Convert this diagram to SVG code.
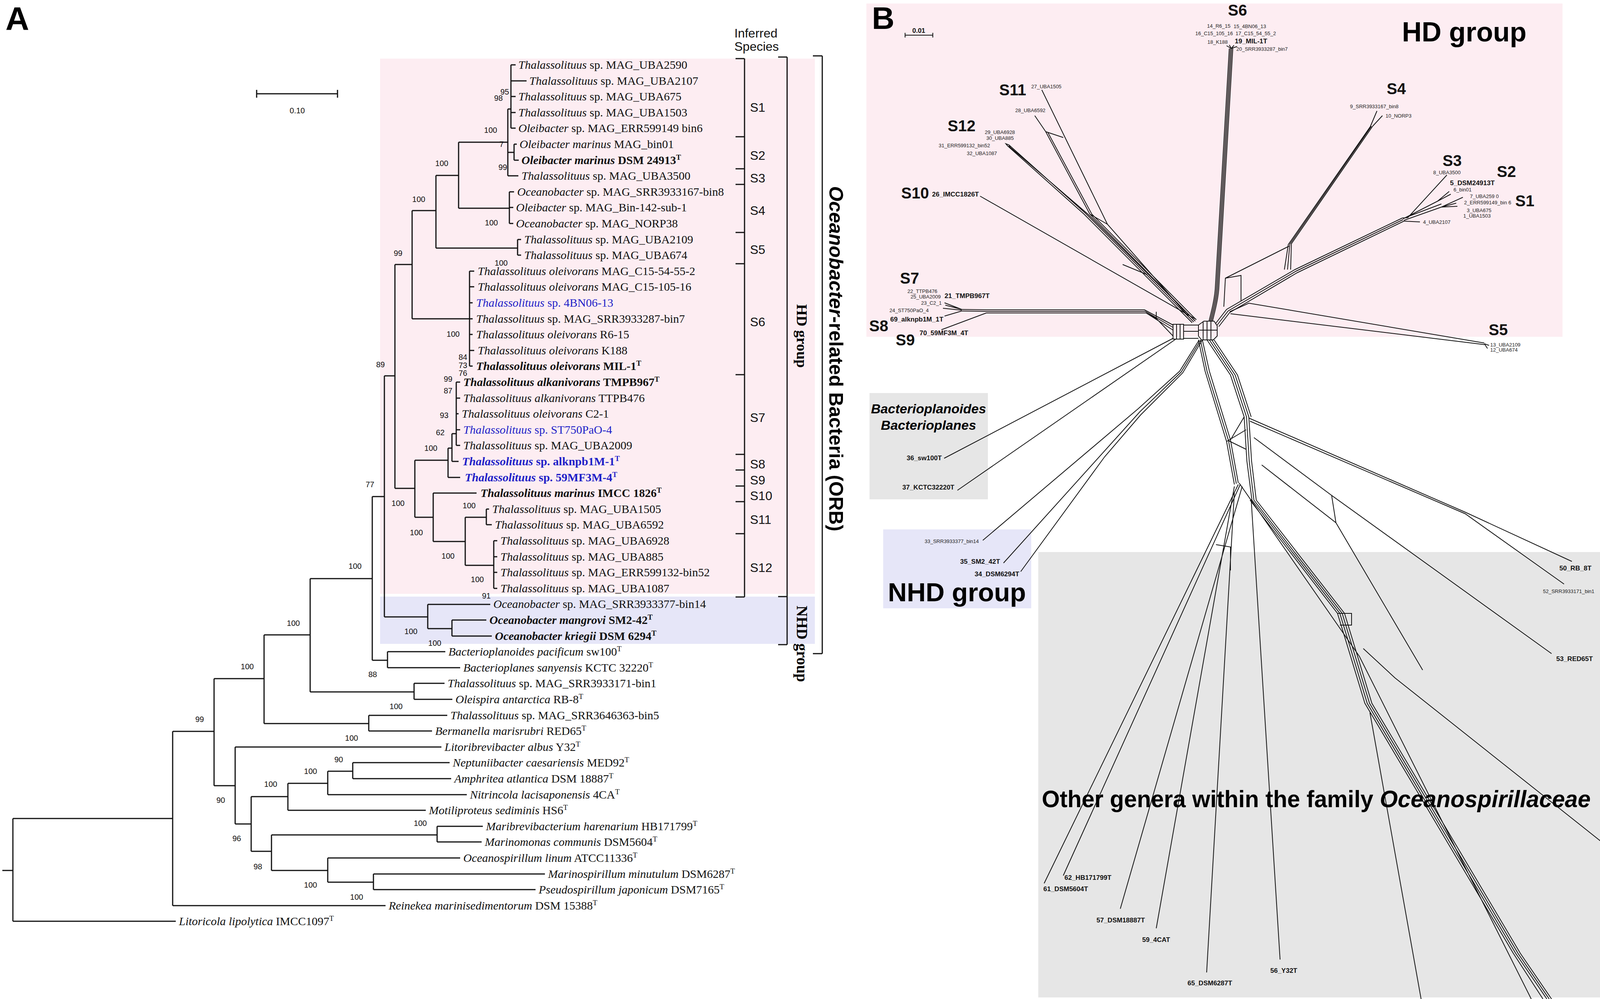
<svg xmlns="http://www.w3.org/2000/svg" width="4328" height="2557" viewBox="0 0 4328 2557">
<style>
.lf{font-family:"Liberation Serif","Times New Roman",serif;font-size:30px;fill:#111}
.i{font-style:italic}
.b{font-weight:bold}
.bl{fill:#1f1fc8}
.bs{font-family:"Liberation Sans",Arial,sans-serif;font-size:20px;fill:#111;text-anchor:middle}
.sl{font-family:"Liberation Sans",Arial,sans-serif;font-size:32px;fill:#111}
.tr{fill:none;stroke:#111;stroke-width:3}
.br{fill:none;stroke:#111;stroke-width:3}
.nw{fill:none;stroke:#111;stroke-width:2}
.sm{font-family:"Liberation Sans",Arial,sans-serif;font-size:13px;fill:#222}
.bd{font-family:"Liberation Sans",Arial,sans-serif;font-size:17px;font-weight:bold;fill:#111}
.big{font-family:"Liberation Sans",Arial,sans-serif;font-size:40px;font-weight:bold;fill:#111}
</style>
<rect width="4328" height="2557" fill="#fff"/>
<!-- Panel A backgrounds -->
<rect x="973" y="150" width="1113" height="1370" fill="#fdedf2"/>
<rect x="973" y="1527" width="1113" height="121" fill="#e6e6f8"/>
<text x="14" y="77" font-family="Liberation Sans,Arial,sans-serif" font-size="84" font-weight="bold">A</text>
<g id="scale-a">
<path class="tr" d="M657 240H864 M657 230V250 M864 230V250"/>
<text x="761" y="290" class="bs" font-size="22">0.10</text>
</g>
<g id="tree-edges">
<path class="tr" d="M6 2228H33 M33 2095V2358 M33 2358H450 M33 2095H442
M442 1872V2318 M442 2318H987 M442 1872H548
M548 1737V2011 M548 1737H676 M548 2011H602
M676 1625V1852 M676 1625H794 M676 1852H944
M794 1481V1771 M794 1481H953 M794 1771H1060
M953 1271V1690 M953 1271H984 M953 1690H992
M984 962V1579 M984 962H1011 M984 1579H1095
M1011 677V1250 M1011 677H1055 M1011 1250H1062
M1055 539V816 M1055 539H1116 M1055 816H1202
M1116 449V635 M1116 449H1174 M1116 635H1325
M1174 364V533 M1174 364H1300 M1174 533H1304
M1300 279V450 M1300 279H1308 M1300 390H1316 M1300 450H1327
M1308 166V328 M1308 166H1320 M1308 207H1348 M1308 247H1320 M1308 288H1320 M1308 328H1320
M1316 369V410 M1316 369H1323 M1316 410H1328
M1304 491V572 M1304 491H1316 M1304 531H1314 M1304 572H1314
M1325 613V653 M1325 613H1334 M1325 653H1334
M1202 694V937 M1202 694H1214 M1202 734H1214 M1202 775H1210 M1202 816H1210 M1202 856H1210 M1202 897H1214 M1202 937H1210
M1062 1178V1324 M1062 1178H1147 M1062 1324H1109
M1147 1147V1222 M1147 1147H1157 M1147 1222H1178
M1157 1110V1181 M1157 1110H1168 M1157 1181H1174
M1168 978V1140 M1168 978H1178 M1168 1019H1178 M1168 1059H1174 M1168 1100H1178 M1168 1140H1178
M1109 1262V1386 M1109 1262H1220 M1109 1386H1191
M1191 1324V1447 M1191 1324H1245 M1191 1447H1264
M1245 1303V1343 M1245 1303H1252 M1245 1343H1259
M1264 1384V1506 M1264 1384H1273 M1264 1425H1273 M1264 1465H1273 M1264 1506H1273
M1095 1547V1609 M1095 1547H1255 M1095 1609H1157
M1157 1587V1628 M1157 1587H1245 M1157 1628H1259
M992 1668V1709 M992 1668H1140 M992 1709H1178
M1060 1749V1790 M1060 1749H1138 M1060 1790H1158
M944 1831V1871 M944 1831H1145 M944 1871H1106
M602 1912V2109 M602 1912H1130 M602 2109H643
M643 2039V2179 M643 2039H737 M643 2179H695
M737 2005V2074 M737 2005H839 M737 2074H1090
M839 1974V2034 M839 1974H903 M839 2034H1195
M903 1952V1993 M903 1952H1151 M903 1993H1155
M695 2137V2228 M695 2137H1119 M695 2228H839
M1119 2115V2155 M1119 2115H1236 M1119 2155H1233
M839 2196V2258 M839 2196H1178 M839 2258H956
M956 2237V2277 M956 2237H1395 M956 2277H1371"/>
</g>
<g id="bootstrap">
<text class="bs" x="1292" y="242">95</text><text class="bs" x="1276" y="258">98</text>
<text class="bs" x="1256" y="340">100</text><text class="bs" x="1284" y="376">7</text>
<text class="bs" x="1287" y="435">99</text><text class="bs" x="1131" y="425">100</text>
<text class="bs" x="1258" y="577">100</text><text class="bs" x="1072" y="517">100</text>
<text class="bs" x="1019" y="655">99</text><text class="bs" x="1283" y="680">100</text>
<text class="bs" x="974" y="940">89</text><text class="bs" x="1160" y="862">100</text>
<text class="bs" x="1185" y="921">84</text><text class="bs" x="1185" y="942">73</text><text class="bs" x="1185" y="962">76</text>
<text class="bs" x="1147" y="977">99</text><text class="bs" x="1147" y="1007">87</text><text class="bs" x="1137" y="1070">93</text>
<text class="bs" x="1127" y="1114">62</text><text class="bs" x="1103" y="1154">100</text>
<text class="bs" x="947" y="1247">77</text><text class="bs" x="1019" y="1295">100</text><text class="bs" x="1201" y="1301">100</text>
<text class="bs" x="1066" y="1370">100</text><text class="bs" x="1147" y="1430">100</text><text class="bs" x="909" y="1456">100</text>
<text class="bs" x="1222" y="1490">100</text><text class="bs" x="1245" y="1532">91</text>
<text class="bs" x="751" y="1602">100</text><text class="bs" x="1052" y="1623">100</text><text class="bs" x="1113" y="1653">100</text>
<text class="bs" x="633" y="1713">100</text><text class="bs" x="954" y="1733">88</text><text class="bs" x="1014" y="1815">100</text>
<text class="bs" x="511" y="1848">99</text><text class="bs" x="900" y="1896">100</text><text class="bs" x="867" y="1951">90</text>
<text class="bs" x="795" y="1981">100</text><text class="bs" x="693" y="2014">100</text><text class="bs" x="565" y="2055">90</text>
<text class="bs" x="1076" y="2114">100</text><text class="bs" x="606" y="2153">96</text><text class="bs" x="660" y="2225">98</text>
<text class="bs" x="795" y="2272">100</text><text class="bs" x="913" y="2303">100</text>
</g>
<g id="leaves">
<g id="leaf-1"><text class="lf" x="1327" y="176"><tspan class="i">Thalassolituus</tspan> sp. MAG_UBA2590</text></g>
<g id="leaf-2"><text class="lf" x="1355" y="217"><tspan class="i">Thalassolituus</tspan> sp. MAG_UBA2107</text></g>
<g id="leaf-3"><text class="lf" x="1327" y="257"><tspan class="i">Thalassolituus</tspan> sp. MAG_UBA675</text></g>
<g id="leaf-4"><text class="lf" x="1327" y="298"><tspan class="i">Thalassolituus</tspan> sp. MAG_UBA1503</text></g>
<g id="leaf-5"><text class="lf" x="1327" y="338"><tspan class="i">Oleibacter</tspan> sp. MAG_ERR599149 bin6</text></g>
<g id="leaf-6"><text class="lf" x="1330" y="379"><tspan class="i">Oleibacter marinus</tspan> MAG_bin01</text></g>
<g id="leaf-7"><text class="lf b" x="1335" y="420"><tspan class="i">Oleibacter marinus</tspan> DSM 24913<tspan dy="-11" font-size="19">T</tspan></text></g>
<g id="leaf-8"><text class="lf" x="1335" y="460"><tspan class="i">Thalassolituus</tspan> sp. MAG_UBA3500</text></g>
<g id="leaf-9"><text class="lf" x="1324" y="501"><tspan class="i">Oceanobacter</tspan> sp. MAG_SRR3933167-bin8</text></g>
<g id="leaf-10"><text class="lf" x="1321" y="541"><tspan class="i">Oleibacter</tspan> sp. MAG_Bin-142-sub-1</text></g>
<g id="leaf-11"><text class="lf" x="1321" y="582"><tspan class="i">Oceanobacter</tspan> sp. MAG_NORP38</text></g>
<g id="leaf-12"><text class="lf" x="1342" y="623"><tspan class="i">Thalassolituus</tspan> sp. MAG_UBA2109</text></g>
<g id="leaf-13"><text class="lf" x="1342" y="663"><tspan class="i">Thalassolituus</tspan> sp. MAG_UBA674</text></g>
<g id="leaf-14"><text class="lf" x="1223" y="704"><tspan class="i">Thalassolituus oleivorans</tspan> MAG_C15-54-55-2</text></g>
<g id="leaf-15"><text class="lf" x="1223" y="744"><tspan class="i">Thalassolituus oleivorans</tspan> MAG_C15-105-16</text></g>
<g id="leaf-16"><text class="lf bl" x="1219" y="785"><tspan class="i">Thalassolituus</tspan> sp. 4BN06-13</text></g>
<g id="leaf-17"><text class="lf" x="1219" y="826"><tspan class="i">Thalassolituus</tspan> sp. MAG_SRR3933287-bin7</text></g>
<g id="leaf-18"><text class="lf" x="1219" y="866"><tspan class="i">Thalassolituus oleivorans</tspan> R6-15</text></g>
<g id="leaf-19"><text class="lf" x="1223" y="907"><tspan class="i">Thalassolituus oleivorans</tspan> K188</text></g>
<g id="leaf-20"><text class="lf b" x="1219" y="947"><tspan class="i">Thalassolituus oleivorans</tspan> MIL-1<tspan dy="-11" font-size="19">T</tspan></text></g>
<g id="leaf-21"><text class="lf b" x="1186" y="988"><tspan class="i">Thalassolituus alkanivorans</tspan> TMPB967<tspan dy="-11" font-size="19">T</tspan></text></g>
<g id="leaf-22"><text class="lf" x="1186" y="1029"><tspan class="i">Thalassolituus alkanivorans</tspan> TTPB476</text></g>
<g id="leaf-23"><text class="lf" x="1182" y="1069"><tspan class="i">Thalassolituus oleivorans</tspan> C2-1</text></g>
<g id="leaf-24"><text class="lf bl" x="1186" y="1110"><tspan class="i">Thalassolituus</tspan> sp. ST750PaO-4</text></g>
<g id="leaf-25"><text class="lf" x="1186" y="1150"><tspan class="i">Thalassolituus</tspan> sp. MAG_UBA2009</text></g>
<g id="leaf-26"><text class="lf b bl" x="1183" y="1191"><tspan class="i">Thalassolituus</tspan> sp. alknpb1M-1<tspan dy="-11" font-size="19">T</tspan></text></g>
<g id="leaf-27"><text class="lf b bl" x="1190" y="1232"><tspan class="i">Thalassolituus</tspan> sp. 59MF3M-4<tspan dy="-11" font-size="19">T</tspan></text></g>
<g id="leaf-28"><text class="lf b" x="1230" y="1272"><tspan class="i">Thalassolituus marinus</tspan> IMCC 1826<tspan dy="-11" font-size="19">T</tspan></text></g>
<g id="leaf-29"><text class="lf" x="1260" y="1313"><tspan class="i">Thalassolituus</tspan> sp. MAG_UBA1505</text></g>
<g id="leaf-30"><text class="lf" x="1267" y="1353"><tspan class="i">Thalassolituus</tspan> sp. MAG_UBA6592</text></g>
<g id="leaf-31"><text class="lf" x="1281" y="1394"><tspan class="i">Thalassolituus</tspan> sp. MAG_UBA6928</text></g>
<g id="leaf-32"><text class="lf" x="1281" y="1435"><tspan class="i">Thalassolituus</tspan> sp. MAG_UBA885</text></g>
<g id="leaf-33"><text class="lf" x="1281" y="1475"><tspan class="i">Thalassolituus</tspan> sp. MAG_ERR599132-bin52</text></g>
<g id="leaf-34"><text class="lf" x="1281" y="1516"><tspan class="i">Thalassolituus</tspan> sp. MAG_UBA1087</text></g>
<g id="leaf-35"><text class="lf" x="1263" y="1556"><tspan class="i">Oceanobacter</tspan> sp. MAG_SRR3933377-bin14</text></g>
<g id="leaf-36"><text class="lf b" x="1253" y="1597"><tspan class="i">Oceanobacter mangrovi</tspan> SM2-42<tspan dy="-11" font-size="19">T</tspan></text></g>
<g id="leaf-37"><text class="lf b" x="1267" y="1638"><tspan class="i">Oceanobacter kriegii</tspan> DSM 6294<tspan dy="-11" font-size="19">T</tspan></text></g>
<g id="leaf-38"><text class="lf" x="1148" y="1678"><tspan class="i">Bacterioplanoides pacificum</tspan> sw100<tspan dy="-11" font-size="19">T</tspan></text></g>
<g id="leaf-39"><text class="lf" x="1186" y="1719"><tspan class="i">Bacterioplanes sanyensis</tspan> KCTC 32220<tspan dy="-11" font-size="19">T</tspan></text></g>
<g id="leaf-40"><text class="lf" x="1146" y="1759"><tspan class="i">Thalassolituus</tspan> sp. MAG_SRR3933171-bin1</text></g>
<g id="leaf-41"><text class="lf" x="1166" y="1800"><tspan class="i">Oleispira antarctica</tspan> RB-8<tspan dy="-11" font-size="19">T</tspan></text></g>
<g id="leaf-42"><text class="lf" x="1153" y="1841"><tspan class="i">Thalassolituus</tspan> sp. MAG_SRR3646363-bin5</text></g>
<g id="leaf-43"><text class="lf" x="1114" y="1881"><tspan class="i">Bermanella marisrubri</tspan> RED65<tspan dy="-11" font-size="19">T</tspan></text></g>
<g id="leaf-44"><text class="lf" x="1138" y="1922"><tspan class="i">Litoribrevibacter albus</tspan> Y32<tspan dy="-11" font-size="19">T</tspan></text></g>
<g id="leaf-45"><text class="lf" x="1159" y="1962"><tspan class="i">Neptuniibacter caesariensis</tspan> MED92<tspan dy="-11" font-size="19">T</tspan></text></g>
<g id="leaf-46"><text class="lf" x="1163" y="2003"><tspan class="i">Amphritea atlantica</tspan> DSM 18887<tspan dy="-11" font-size="19">T</tspan></text></g>
<g id="leaf-47"><text class="lf" x="1203" y="2044"><tspan class="i">Nitrincola lacisaponensis</tspan> 4CA<tspan dy="-11" font-size="19">T</tspan></text></g>
<g id="leaf-48"><text class="lf" x="1098" y="2084"><tspan class="i">Motiliproteus sediminis</tspan> HS6<tspan dy="-11" font-size="19">T</tspan></text></g>
<g id="leaf-49"><text class="lf" x="1244" y="2125"><tspan class="i">Maribrevibacterium harenarium</tspan> HB171799<tspan dy="-11" font-size="19">T</tspan></text></g>
<g id="leaf-50"><text class="lf" x="1241" y="2165"><tspan class="i">Marinomonas communis</tspan> DSM5604<tspan dy="-11" font-size="19">T</tspan></text></g>
<g id="leaf-51"><text class="lf" x="1186" y="2206"><tspan class="i">Oceanospirillum linum</tspan> ATCC11336<tspan dy="-11" font-size="19">T</tspan></text></g>
<g id="leaf-52"><text class="lf" x="1403" y="2247"><tspan class="i">Marinospirillum minutulum</tspan> DSM6287<tspan dy="-11" font-size="19">T</tspan></text></g>
<g id="leaf-53"><text class="lf" x="1379" y="2287"><tspan class="i">Pseudospirillum japonicum</tspan> DSM7165<tspan dy="-11" font-size="19">T</tspan></text></g>
<g id="leaf-54"><text class="lf" x="995" y="2328"><tspan class="i">Reinekea marinisedimentorum</tspan> DSM 15388<tspan dy="-11" font-size="19">T</tspan></text></g>
<g id="leaf-55"><text class="lf" x="458" y="2368"><tspan class="i">Litoricola lipolytica</tspan> IMCC1097<tspan dy="-11" font-size="19">T</tspan></text></g>
</g>
<g id="species-brackets">
<text class="sl" x="1880" y="96" font-size="27">Inferred</text>
<text class="sl" x="1880" y="130" font-size="27">Species</text>
<path class="br" d="M1906 150V1528 M1883 150H1906 M1883 350H1906 M1883 432H1906 M1883 472H1906 M1883 595H1906 M1883 675H1906 M1883 959H1906 M1883 1163H1906 M1883 1203H1906 M1883 1244H1906 M1883 1284H1906 M1883 1366H1906 M1883 1528H1906"/>
<text class="sl" x="1920" y="286">S1</text>
<text class="sl" x="1920" y="409">S2</text>
<text class="sl" x="1920" y="467">S3</text>
<text class="sl" x="1920" y="550">S4</text>
<text class="sl" x="1920" y="650">S5</text>
<text class="sl" x="1920" y="835">S6</text>
<text class="sl" x="1920" y="1080">S7</text>
<text class="sl" x="1920" y="1199">S8</text>
<text class="sl" x="1920" y="1240">S9</text>
<text class="sl" x="1920" y="1280">S10</text>
<text class="sl" x="1920" y="1341">S11</text>
<text class="sl" x="1920" y="1464">S12</text>
</g>
<g id="group-brackets">
<path class="br" d="M2015 146V1650 M1992 146H2015 M1992 1527H2015 M1992 1650H2015"/>
<path class="br" d="M2105 143V1673 M2081 143H2105 M2081 1673H2105"/>
<text transform="translate(2040,860) rotate(90)" font-family="Liberation Serif,Times New Roman,serif" font-size="38" font-weight="bold" text-anchor="middle">HD group</text>
<text transform="translate(2040,1648) rotate(90)" font-family="Liberation Serif,Times New Roman,serif" font-size="39" font-weight="bold" text-anchor="middle">NHD group</text>
<text transform="translate(2123,918) rotate(90)" font-family="Liberation Sans,Arial,sans-serif" font-size="50" font-weight="bold" text-anchor="middle"><tspan font-style="italic">Oceanobacter</tspan>-related Bacteria (ORB)</text>
</g>

<!-- Panel B -->
<rect x="2218" y="9" width="1782" height="853" fill="#fdedf2"/>
<rect x="2226" y="1006" width="303" height="272" fill="#e6e6e6"/>
<rect x="2261" y="1355" width="379" height="202" fill="#e6e6f8"/>
<rect x="2658" y="1413" width="1663" height="1140" fill="#e6e6e6"/>
<text x="2232" y="74" font-family="Liberation Sans,Arial,sans-serif" font-size="80" font-weight="bold">B</text>
<g id="scale-b">
<path class="nw" d="M2317 90H2388 M2317 84V96 M2388 84V96"/>
<text x="2352" y="84" class="bd" text-anchor="middle" font-size="16">0.01</text>
</g>
<g id="network">
<!-- hub -->
<path class="nw" d="M3068 832L3082 822H3108L3116 834V860L3106 870H3076L3068 860Z M3080 823V869 M3090 822V870 M3100 822V870 M3068 845H3116"/>
<path class="nw" d="M3003 830H3030V868H3003Z M3012 830V868 M3021 830V868 M3030 832H3068 M3030 848H3068 M3030 866H3068"/>
<!-- S6 -->
<path class="nw" d="M3095 822C3103 790 3109 765 3111 740L3147 124 M3098 822C3106 790 3112 765 3114 740L3150 124 M3101 822C3109 790 3115 765 3117 740L3153 124 M3104 822C3112 790 3118 765 3120 740L3156 124 M3152 124L3140 117 M3152 124L3147 115 M3152 124L3159 116 M3152 124L3167 119"/>
<!-- S1-S3 and S4 -->
<path class="nw" d="M3112 828L3140 792L3315 690L3590 558 M3116 832L3144 796L3318 694L3592 562 M3120 836L3148 800L3321 698L3594 566 M3133 785L3137 712L3300 630 M3137 712L3177 705L3177 770"/>
<path class="nw" d="M3288 690L3298 626L3508 324 M3304 690L3306 624L3514 323 M3296 690L3302 625L3511 323 M3508 324L3525 284 M3514 323L3539 296"/>
<path class="nw" d="M3590 558L3604 557L3704 448 M3592 560L3680 515L3714 497 M3680 515L3710 490 M3594 564L3690 530L3745 505 M3690 530L3731 528 M3690 530L3728 520 M3594 566L3635 568 M3600 556L3690 522"/>
<!-- S5 -->
<path class="nw" d="M3148 798L3197 776L3800 878 M3150 803L3800 882 M3800 880L3812 884 M3800 880L3808 892"/>
<!-- S7-S9 -->
<path class="nw" d="M3003 832L2930 793H2525L2462 792 M3003 838L2932 797H2525L2462 796 M3003 845L2934 801H2525 M3003 860L2960 815L2934 801 M2960 815V798"/>
<path class="nw" d="M2462 792L2418 775 M2462 792L2420 781 M2462 794L2414 789 M2462 796L2418 809 M2525 801L2410 844"/>
<!-- S10, S11, S12 -->
<path class="nw" d="M3063 818L2509 502 M2874 677L2937 703"/>
<path class="nw" d="M3052 826L2775 548L2579 373 M3056 824L2779 546L2583 371 M3060 822L2785 548L2586 377 M2575 368L2583 371L2586 377L2579 373Z"/>
<path class="nw" d="M3058 820L2790 548L2677 337L2649 296 M3062 818L2795 548L2682 338 M3042 809L2835 574L2667 230 M2677 337L2722 352 M2790 548L2835 574"/>
<!-- Bacterioplanoides / Bacterioplanes -->
<path class="nw" d="M3003 866L2417 1173 M3010 868L2451 1255"/>
<!-- NHD -->
<path class="nw" d="M3070 870L3020 950L2914 1046L2516 1383 M3074 870L3024 952L2918 1054L2569 1441 M3078 870L3028 954L2920 1062L2828 1169L2613 1463"/>
<!-- lower trunk -->
<path class="nw" d="M3068 870L3085 950L3140 1130L3160 1240 M3073 870L3090 950L3145 1128L3165 1238 M3078 870L3096 950L3150 1126L3170 1236 M3090 870L3150 960L3185 1067L3192 1180L3205 1280 M3096 870L3156 960L3191 1067L3198 1180L3210 1280 M3102 870L3162 960L3197 1067L3204 1180L3216 1280 M3108 870L3168 960L3203 1067 M3140 1130L3190 1100 M3150 1126L3185 1067 M3145 1128L3190 1150"/>
<path class="nw" d="M3197 1070L3751 1311L4024 1437 M3200 1078L3751 1315L4004 1495 M3210 1120L3409 1268L3972 1673 M3409 1268L3420 1338 M3230 1190L3420 1338L3642 1715 M3490 1660L3571 1735L4322 2331"/>
<path class="nw" d="M3205 1280L3430 1570L3500 1800L3880 2440L3960 2557 M3210 1280L3436 1570L3506 1800L3886 2440L3966 2557 M3216 1280L3442 1570L3512 1800L3892 2440L3972 2557 M3200 1280L3424 1570L3494 1800L3874 2440L3950 2557 M3172 1236L3480 1680L3920 2557 M3424 1570H3460V1600H3430 M3203 1278L3277 2456 M3507 1824L3638 2557"/>
<path class="nw" d="M3170 1240L2673 2261 M3175 1240L2722 2241 M3180 1245L2868 2326 M3160 1245L2960 2376 M3160 1260L3089 2489 M3113 1394L3150 1400L3150 1460"/>
</g>
<g id="b-labels">
<text class="big" x="3168" y="40" text-anchor="middle">S6</text>
<text class="sm" x="3090" y="71">14_R6_15</text>
<text class="sm bl" x="3158" y="72">15_4BN06_13</text>
<text class="sm" x="3060" y="90">16_C15_105_16</text>
<text class="sm" x="3163" y="90">17_C15_54_55_2</text>
<text class="sm" x="3091" y="112">18_K188</text>
<text class="bd" x="3161" y="111">19_MIL-1T</text>
<text class="sm" x="3165" y="130">20_SRR3933287_bin7</text>
<text class="big" x="2558" y="244">S11</text>
<text class="sm" x="2640" y="226">27_UBA1505</text>
<text class="sm" x="2599" y="287">28_UBA6592</text>
<text class="big" x="2426" y="336">S12</text>
<text class="sm" x="2521" y="343">29_UBA6928</text>
<text class="sm" x="2525" y="358">30_UBA885</text>
<text class="sm" x="2403" y="377">31_ERR599132_bin52</text>
<text class="sm" x="2475" y="397">32_UBA1087</text>
<text class="big" x="2307" y="508">S10</text>
<text class="bd" x="2386" y="503">26_IMCC1826T</text>
<text class="big" x="2304" y="726">S7</text>
<text class="sm" x="2323" y="750">22_TTPB476</text>
<text class="sm" x="2331" y="764">25_UBA2009</text>
<text class="bd" x="2418" y="763">21_TMPB967T</text>
<text class="sm" x="2358" y="780">23_C2_1</text>
<text class="sm bl" x="2277" y="799">24_ST750PaO_4</text>
<text class="bd bl" x="2279" y="823">69_alknpb1M_1T</text>
<text class="big" x="2225" y="848">S8</text>
<text class="bd bl" x="2354" y="858">70_59MF3M_4T</text>
<text class="big" x="2293" y="884">S9</text>
<text x="3589" y="106" font-family="Liberation Sans,Arial,sans-serif" font-size="70" font-weight="bold">HD group</text>
<text class="big" x="3550" y="241">S4</text>
<text class="sm" x="3456" y="277">9_SRR3933167_bin8</text>
<text class="sm" x="3547" y="301">10_NORP3</text>
<text class="big" x="3693" y="425">S3</text>
<text class="sm" x="3669" y="446">8_UBA3500</text>
<text class="big" x="3832" y="453">S2</text>
<text class="bd" x="3712" y="474">5_DSM24913T</text>
<text class="sm" x="3721" y="490">6_bin01</text>
<text class="sm" x="3763" y="507">7_UBA259 0</text>
<text class="sm" x="3748" y="523">2_ERR599149_bin 6</text>
<text class="big" x="3879" y="528">S1</text>
<text class="sm" x="3755" y="543">3_UBA675</text>
<text class="sm" x="3746" y="557">1_UBA1503</text>
<text class="sm" x="3643" y="573">4_UBA2107</text>
<text class="big" x="3811" y="858">S5</text>
<text class="sm" x="3815" y="887">13_UBA2109</text>
<text class="sm" x="3815" y="900">12_UBA674</text>
<text x="2377" y="1058" font-family="Liberation Sans,Arial,sans-serif" font-size="34" font-weight="bold" font-style="italic" text-anchor="middle">Bacterioplanoides</text>
<text x="2377" y="1100" font-family="Liberation Sans,Arial,sans-serif" font-size="34" font-weight="bold" font-style="italic" text-anchor="middle">Bacterioplanes</text>
<text class="bd" x="2321" y="1178">36_sw100T</text>
<text class="bd" x="2310" y="1253">37_KCTC32220T</text>
<text class="sm" x="2367" y="1390">33_SRR3933377_bin14</text>
<text class="bd" x="2458" y="1443">35_SM2_42T</text>
<text class="bd" x="2495" y="1475">34_DSM6294T</text>
<text x="2273" y="1539" font-family="Liberation Sans,Arial,sans-serif" font-size="67" font-weight="bold">NHD group</text>
<text x="2667" y="2066" font-family="Liberation Sans,Arial,sans-serif" font-size="62" font-weight="bold" textLength="1405" lengthAdjust="spacingAndGlyphs">Other genera within the family <tspan font-style="italic">Oceanospirillaceae</tspan></text>
<text class="bd" x="3992" y="1460">50_RB_8T</text>
<text class="sm" x="3950" y="1518">52_SRR3933171_bin1</text>
<text class="bd" x="3984" y="1692">53_RED65T</text>
<text class="bd" x="2725" y="2252">62_HB171799T</text>
<text class="bd" x="2671" y="2281">61_DSM5604T</text>
<text class="bd" x="2807" y="2361">57_DSM18887T</text>
<text class="bd" x="2924" y="2411">59_4CAT</text>
<text class="bd" x="3040" y="2522">65_DSM6287T</text>
<text class="bd" x="3252" y="2490">56_Y32T</text>
</g>
</svg>
